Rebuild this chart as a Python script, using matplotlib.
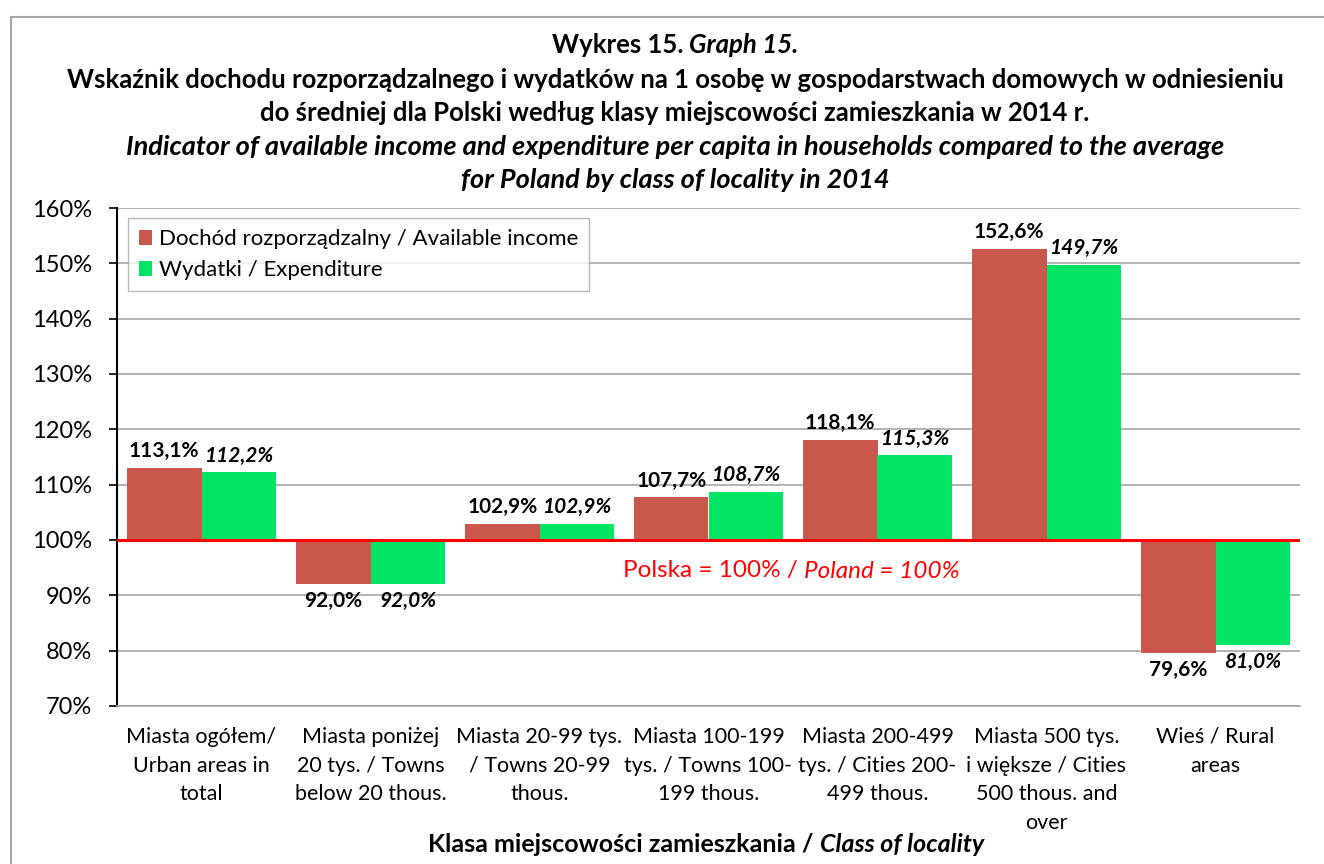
import matplotlib
matplotlib.use("Agg")
from matplotlib import pyplot as plt
from matplotlib.patches import Rectangle
import numpy as np

#------------------------------------------#
# Data
#------------------------------------------#

categories = [
    "Miasta ogółem/\nUrban areas in\ntotal",
    "Miasta poniżej\n20 tys. / Towns\nbelow 20 thous.",
    "Miasta 20-99 tys.\n/ Towns 20-99\nthous.",
    "Miasta 100-199\ntys. / Towns 100-\n199 thous.",
    "Miasta 200-499\ntys. / Cities 200-\n499 thous.",
    "Miasta 500 tys.\ni większe / Cities\n500 thous. and\nover",
    "Wieś / Rural\nareas",
]
income = [113.1, 92.0, 102.9, 107.7, 118.1, 152.6, 79.6]
expenditure = [112.2, 92.0, 102.9, 108.7, 115.3, 149.7, 81.0]
yticks = [70, 80, 90, 100, 110, 120, 130, 140, 150, 160]

red = "#C9574B"
green = "#02E463"
plt.rcParams['font.family'] = ['Lato', 'DejaVu Sans']

#------------------------------------------#
# Figure
#------------------------------------------#

fig = plt.figure(figsize=(13.24, 8.64), dpi=100)
ax = fig.add_axes([117 / 1324, 1 - 706 / 864, (1300 - 117) / 1324, 498 / 864])

# outer frame
fig.patches.append(Rectangle((11 / 1324, -0.01), 1.0, 1 - 17 / 864 + 0.01,
                             transform=fig.transFigure, fill=False,
                             edgecolor="#A6A6A6", lw=1.5))

x = np.arange(len(categories))
w = 0.44
inc = np.array(income)
exp_ = np.array(expenditure)
ax.bar(x - w / 2, inc - 100, w, bottom=100, color=red, label="Dochód rozporządzalny / Available income", zorder=3)
ax.bar(x + w / 2, exp_ - 100, w, bottom=100, color=green, label="Wydatki / Expenditure", zorder=3)

def fmt(v):
    return ("%.1f%%" % v).replace(".", ",")

for xi, v in zip(x, inc):
    off = 1.2 if v >= 100 else -1.3
    ax.text(xi - w / 2, v + off, fmt(v), ha="center", va="bottom" if v >= 100 else "top",
            fontsize=15, fontweight="bold", zorder=4)
for xi, v in zip(x, exp_):
    off = 1.2 if v >= 100 else -1.3
    ax.text(xi + w / 2, v + off, fmt(v), ha="center", va="bottom" if v >= 100 else "top",
            fontsize=15, fontweight="bold", fontstyle="italic", zorder=4)

ax.axhline(100, color="#FF0000", lw=2.2, zorder=5)

ax.set_xlim(-0.5, len(categories) - 0.5)
ax.set_ylim(70, 160)
ax.set_yticks(yticks)
ax.set_yticklabels(["%d%%" % t for t in yticks], fontsize=17)
ax.set_xticks(x)
ax.set_xticklabels(categories, fontsize=15.5, linespacing=1.55, va="top")
ax.tick_params(axis="x", length=0, pad=15)
ax.tick_params(axis="y", length=6, direction="out", pad=12, width=1.2)
ax.yaxis.grid(True, color="#A6A6A6", lw=1.2, zorder=0)
for s in ["top", "right"]:
    ax.spines[s].set_visible(False)
ax.spines["left"].set_linewidth(1.5)
ax.spines["bottom"].set_color("#A6A6A6")
ax.spines["bottom"].set_linewidth(1.2)

leg = ax.legend(loc="upper left", bbox_to_anchor=(0.009, 0.98), fontsize=16,
                frameon=True, fancybox=False, edgecolor="#A6A6A6",
                handlelength=0.6, handleheight=0.7, handletextpad=0.3,
                labelspacing=0.5, borderpad=0.5, borderaxespad=0.0)
leg.get_frame().set_linewidth(1.0)

#------------------------------------------#
# Mixed style texts
#------------------------------------------#

def mixed(parts, xc, y, coords, **kw):
    texts = []
    for s, style in parts:
        t = fig.text(0, y, s, fontstyle=style, ha="left", va="center",
                     transform=coords, **kw)
        texts.append(t)
    fig.canvas.draw()
    r = fig.canvas.get_renderer()
    inv = fig.transFigure.inverted()
    widths = []
    for t in texts:
        bb = t.get_window_extent(r)
        p0 = inv.transform((bb.x0, bb.y0))
        p1 = inv.transform((bb.x1, bb.y1))
        widths.append(p1[0] - p0[0])
    start = xc - sum(widths) / 2
    for t, wd in zip(texts, widths):
        t.set_x(start)
        start += wd

tf = fig.transFigure
tc = 675 / 1324
mixed([("Wykres 15. ", "normal"), ("Graph 15.", "italic")], tc, 1 - 45 / 864, tf, fontsize=18.5, fontweight="bold")
fig.text(tc, 1 - 80 / 864, "Wskaźnik dochodu rozporządzalnego i wydatków na 1 osobę w gospodarstwach domowych w odniesieniu",
         ha="center", va="center", fontsize=18.5, fontweight="bold")
fig.text(tc, 1 - 113 / 864, "do średniej dla Polski według klasy miejscowości zamieszkania w 2014 r.",
         ha="center", va="center", fontsize=18.5, fontweight="bold")
fig.text(tc, 1 - 147 / 864, "Indicator of available income and expenditure per capita in households compared to the average",
         ha="center", va="center", fontsize=19.5, fontweight="bold", fontstyle="italic")
fig.text(tc, 1 - 180 / 864, "for Poland by class of locality in 2014",
         ha="center", va="center", fontsize=19.5, fontweight="bold", fontstyle="italic")

mixed([("Polska = 100% / ", "normal"), ("Poland = 100%", "italic")], 791 / 1324, 1 - 571 / 864, tf,
      fontsize=17.5, color="#FF0000")
mixed([("Klasa miejscowości zamieszkania / ", "normal"), ("Class of locality", "italic")], 706 / 1324, 1 - 845 / 864, tf,
      fontsize=18, fontweight="bold")

fig.savefig("out.png", dpi=100)
